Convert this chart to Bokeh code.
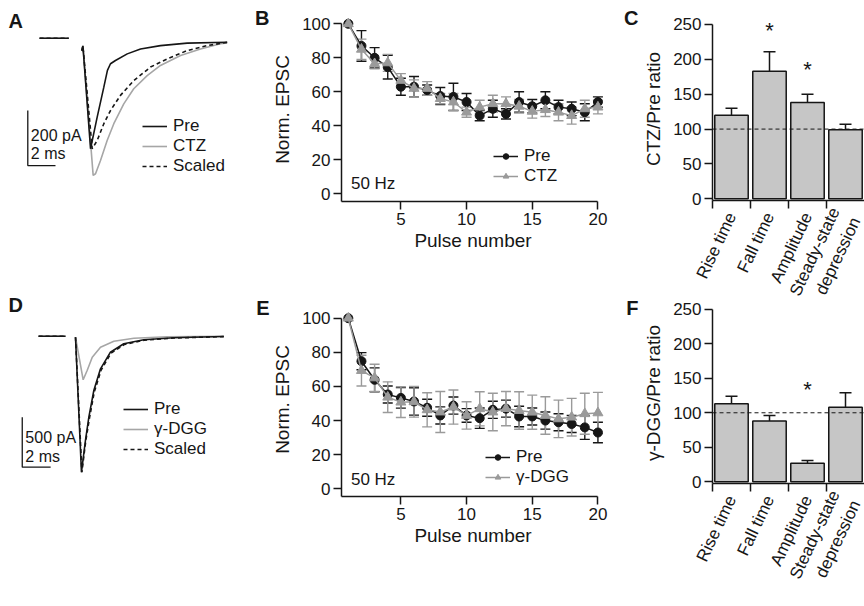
import math
from bokeh.plotting import figure
from bokeh.models import (ColumnDataSource, Whisker, TeeHead, Span, Label, Legend,
                          LegendItem, FixedTicker, Range1d, LinearAxis)
from bokeh.layouts import row, column
from bokeh.embed import file_html
from bokeh.resources import INLINE
from bokeh.core.properties import value

NaN = float("nan")
FONT = "Liberation Sans"
INK = "#161616"
GREY = "#9a9a9a"
TRACE_GREY = "#a6a6a6"
BAR_FILL = "#c6c6c6"

# ---------------- data ----------------
# Panel A: EPSC traces (time in ms, current in pA)
a_pre_t = [-3.1, -1.0, NaN, -0.05, 0.03, 0.58, 1.06, 1.54, 1.80, 2.02, 2.38, 3.23, 4.19, 5.63, 7.56, 10.45]
a_pre_i = [0, 0, NaN, -45, -28, -402, -287, -178, -117, -93, -81, -57, -39, -27, -18, -15]
a_ctz_t = [-3.1, -1.0, NaN, -0.05, 0.03, 0.77, 0.94, 1.30, 1.78, 2.26, 2.98, 3.70, 4.67, 5.63, 7.08, 8.52, 9.96, 10.45]
a_ctz_i = [0, 0, NaN, -45, -28, -499, -493, -445, -372, -311, -239, -184, -136, -99, -63, -39, -20, -17]
a_scl_t = [-3.1, -1.0, NaN, -0.05, 0.03, 0.70, 1.06, 1.54, 2.02, 2.74, 3.70, 4.91, 6.12, 7.56, 9.00, 10.45]
a_scl_i = [0, 0, NaN, -45, -28, -402, -372, -311, -263, -208, -154, -105, -75, -45, -27, -15]

# Panel D: EPSC traces (time in ms, current in pA)
d_pre_t = [-2.6, -0.7, NaN, 0.0, 0.42, 0.70, 0.94, 1.29, 1.76, 2.46, 3.40, 4.81, 6.92, 10.44]
d_pre_i = [0, 0, NaN, -10, -1360, -1043, -810, -543, -326, -160, -76, -36, -16, -3]
d_dgg_t = [-2.6, -0.7, NaN, 0.0, 0.54, 0.82, 1.18, 1.76, 2.70, 4.11, 6.46, 10.44]
d_dgg_i = [0, 0, NaN, -10, -436, -343, -210, -110, -50, -20, -6, 0]
d_scl_t = [-2.6, -0.7, NaN, 0.0, 0.45, 0.72, 0.97, 1.32, 1.80, 2.50, 3.45, 4.85, 6.95, 10.44]
d_scl_i = [0, 0, NaN, -10, -1360, -1050, -830, -560, -340, -170, -82, -40, -18, -4]

# Panels B and E: normalized EPSC during 50 Hz trains
pulse = list(range(1, 21))
b_pre = [100, 87, 80, 74.5, 63, 63, 61, 57.5, 57, 54, 46, 50, 47, 54, 51.5, 55, 51, 50, 48, 54]
b_pre_err = [0, 9, 6, 7, 5, 6, 3, 5, 8, 5, 3, 5, 3, 6, 4, 5, 4, 4, 5, 3]
b_ctz = [100, 85, 76.5, 77, 66.7, 62, 62, 56, 54, 48, 51, 53, 53, 51.5, 48.5, 49.5, 48, 46, 50, 51]
b_ctz_err = [0, 6, 3, 5, 4, 5, 4, 3, 5, 3, 4, 5, 4, 4, 4, 4, 5, 5, 5, 4]

e_pre = [100, 74.8, 63.9, 55.3, 53.3, 51.2, 47.5, 43, 48.8, 43, 41.4, 46.3, 47, 42.4, 42.4, 40, 39, 38, 36, 33]
e_pre_err = [0, 5, 7, 5, 6, 8, 5, 5, 5, 4, 6, 5, 5, 6, 5, 5, 5, 5, 7, 6]
e_dgg = [100, 69.3, 65, 53.7, 50.8, 51, 46.3, 45, 47.9, 43, 46.9, 45, 47, 45.9, 44.9, 43, 41, 42, 44, 44.5]
e_dgg_err = [0, 9, 8, 9, 9, 9, 10, 12, 10, 8, 10, 11, 10, 11, 10, 11, 11, 11, 12, 12]

# Panels C and F: drug / Pre ratios (%)
cats = ["Rise time", "Fall time", "Amplitude", "Steady-state\ndepression"]
c_vals = [120, 183, 138, 99]
c_err = [10, 28, 12, 8]
c_star_idx = [1, 2]
c_star_y = [241, 186]
f_vals = [113, 88, 27, 108]
f_err = [11, 8, 4, 21]
f_star_idx = [2]
f_star_y = [133]

# ---------------- helpers ----------------
def make_fig(w, h, xr, yr, left, right, top, bottom, axes=True):
    kw = dict(width=w, height=h, x_range=Range1d(*xr), y_range=Range1d(*yr),
              output_backend="svg", toolbar_location=None,
              min_border_left=left, min_border_right=right,
              min_border_top=top, min_border_bottom=bottom)
    if not axes:
        kw.update(x_axis_location=None, y_axis_location=None)
    p = figure(**kw)
    p.grid.visible = False
    p.outline_line_color = None
    return p


def style_axes(p):
    for ax in p.axis:
        ax.axis_line_width = 1.5
        ax.axis_line_color = INK
        ax.major_tick_line_color = INK
        ax.major_tick_line_width = 1.5
        ax.major_tick_in = 0
        ax.major_tick_out = 8
        ax.minor_tick_line_color = None
        ax.major_label_text_font = FONT
        ax.major_label_text_font_size = "17px"
        ax.major_label_text_color = INK
        ax.major_label_standoff = 3
        ax.axis_label_text_font = FONT
        ax.axis_label_text_font_size = "19px"
        ax.axis_label_text_font_style = "normal"
        ax.axis_label_text_color = INK
        ax.axis_label_standoff = 6


def letter_axis(p, ch, tick, standoff):
    # panel letter drawn as the single label of an extra, line-less left axis
    ax = LinearAxis(ticker=FixedTicker(ticks=[tick]), major_label_overrides={tick: ch})
    ax.axis_line_color = None
    ax.major_tick_line_color = None
    ax.minor_tick_line_color = None
    ax.major_tick_out = 0
    ax.major_tick_in = 0
    ax.major_label_standoff = standoff
    ax.major_label_text_font = FONT
    ax.major_label_text_font_size = "20px"
    ax.major_label_text_font_style = "bold"
    ax.major_label_text_color = INK
    p.add_layout(ax, "left")


def legend(p, items, x, y, spacing, line_height=1.2):
    lg = Legend(items=[LegendItem(label=l, renderers=r) for l, r in items],
                location=(x, y), orientation="vertical",
                border_line_color=None, background_fill_alpha=0,
                padding=0, margin=0, spacing=spacing,
                glyph_width=25, glyph_height=14, label_height=14,
                label_standoff=6, label_text_font=FONT,
                label_text_line_height=line_height,
                label_text_font_size="17px", label_text_color=INK)
    p.add_layout(lg)


# ---------------- trace panels (A, D) ----------------
def trace_panel(h, xr, yr, traces, sb, sb_labels, ch, ch_xy):
    p = make_fig(240, h, xr, yr, 0, 0, 0, 0, axes=False)
    rs = []
    for t, i, color, dash in traces:
        rs.append(p.line(t, i, line_color=color, line_width=1.6, line_dash=dash))
    t0, i0, dt, di = sb
    p.line([t0, t0, t0 + dt], [i0 + di, i0, i0], line_color=INK, line_width=1.3)
    p.text(x=[t0 + 0.22, t0 + 0.22], y=sb_labels, text=[f"{di} pA", f"{dt} ms"],
           text_font=value(FONT), text_font_size="16px", text_color=INK,
           text_align="left", text_baseline="middle")
    p.add_layout(Label(x=ch_xy[0], y=ch_xy[1], text=ch, text_font=FONT,
                       text_font_size="20px", text_font_style="bold", text_color=INK,
                       text_align="left", text_baseline="middle"))
    return p, rs


# Panel A  (scale: 13.85 px per ms, 0.275 px per pA)
A_xr = ((0 - 82) / 13.85, (240 - 82) / 13.85)
A_yr = ((37.7 - 294) / 0.275, (37.7 - 0) / 0.275)
pA, rA = trace_panel(294, A_xr, A_yr,
                     [(a_ctz_t, a_ctz_i, TRACE_GREY, "solid"),
                      (a_pre_t, a_pre_i, INK, "solid"),
                      (a_scl_t, a_scl_i, INK, "4 3")],
                     (-3.95, -463, 2, 200), [-354, -418], "A",
                     ((8 - 82) / 13.85, (37.7 - 20) / 0.275))
legend(pA, [("Pre", [rA[1]]), ("CTZ", [rA[0]]), ("Scaled", [rA[2]])], 142, 118, 0, 0.85)

# Panel D  (scale: 14.2 px per ms, 0.1 px per pA)
D_xr = ((0 - 75) / 14.2, (240 - 75) / 14.2)
D_yr = ((335.7 - 604) / 0.1, (335.7 - 294) / 0.1)
pD, rD = trace_panel(310, D_xr, D_yr,
                     [(d_dgg_t, d_dgg_i, TRACE_GREY, "solid"),
                      (d_pre_t, d_pre_i, INK, "solid"),
                      (d_scl_t, d_scl_i, INK, "4 3")],
                     (-3.75, -1310, 2, 500), [-1010, -1200], "D",
                     ((8 - 75) / 14.2, (335.7 - 304) / 0.1))
legend(pD, [("Pre", [rD[1]]), ("\u03b3-DGG", [rD[0]]), ("Scaled", [rD[2]])], 123, 145, 0, 0.9)

# ---------------- train panels (B, E) ----------------
T_xr = (0.48, 20.5)


def train_panel(h, top, bottom, yr, pre, pre_err, drug, drug_err, drug_name, hz_y,
                leg_xy, leg_spacing, ch):
    p = make_fig(380, h, T_xr, yr, 101, 16, top, bottom)
    for vals, errs, color in [(pre, pre_err, INK), (drug, drug_err, GREY)]:
        keep = [k for k, e in enumerate(errs) if e > 0]
        src = ColumnDataSource(dict(x=[pulse[k] for k in keep],
                                    lo=[vals[k] - errs[k] for k in keep],
                                    hi=[vals[k] + errs[k] for k in keep]))
        p.add_layout(Whisker(source=src, base="x", lower="lo", upper="hi",
                             line_color=color, line_width=1.4,
                             lower_head=TeeHead(size=10, line_color=color, line_width=1.4),
                             upper_head=TeeHead(size=10, line_color=color, line_width=1.4)))
    l1 = p.line(pulse, pre, line_color=INK, line_width=1.5)
    m1 = p.scatter(pulse, pre, marker="circle", size=9, fill_color=INK, line_color=INK)
    l2 = p.line(pulse, drug, line_color=GREY, line_width=1.5)
    m2 = p.scatter(pulse, drug, marker="triangle", size=10, fill_color=GREY, line_color=GREY)
    p.text(x=[1.2], y=[hz_y], text=["50 Hz"], text_font=value(FONT), text_font_size="17px",
           text_color=INK, text_align="left", text_baseline="middle")
    style_axes(p)
    p.yaxis.ticker = FixedTicker(ticks=[0, 20, 40, 60, 80, 100])
    p.yaxis.bounds = (yr[0], 100)
    p.xaxis.ticker = FixedTicker(ticks=[5, 10, 15, 20])
    p.xaxis.bounds = (T_xr[0], 20)
    p.yaxis.axis_label = "Norm. EPSC"
    p.xaxis.axis_label = "Pulse number"
    p.xaxis.axis_label_standoff = 2
    legend(p, [("Pre", [l1, m1]), (drug_name, [l2, m2])], leg_xy[0], leg_xy[1], leg_spacing)
    letter_axis(p, ch, yr[1] - 0.2, 0)
    return p


B_yr = (-4.5, 103.7)
E_yr = (-4.5, 109.2)
pB = train_panel(294, 17, 93, B_yr, b_pre, b_pre_err, b_ctz, b_ctz_err, "CTZ", 6.2,
                 (152, 15), 0, "B")
pE = train_panel(310, 8, 108, E_yr, e_pre, e_pre_err, e_dgg, e_dgg_err, "\u03b3-DGG", 5.4,
                 (144, 9), 0, "E")

# ---------------- ratio panels (C, F) ----------------
R_xr = (0, 4)


def ratio_panel(h, top, bottom, yr, vals, errs, star_idx, star_y, ylabel, ch):
    p = make_fig(244, h, R_xr, yr, 92, 0, top, bottom)
    xs = [k + 0.5 for k in range(len(cats))]
    p.vbar(x=xs, top=vals, bottom=0, width=0.88, fill_color=BAR_FILL,
           line_color=INK, line_width=1.5)
    src = ColumnDataSource(dict(x=xs, lo=vals, hi=[v + e for v, e in zip(vals, errs)]))
    p.add_layout(Whisker(source=src, base="x", lower="lo", upper="hi",
                         line_color=INK, line_width=1.5, lower_head=None,
                         upper_head=TeeHead(size=12, line_color=INK, line_width=1.5)))
    p.add_layout(Span(location=100, dimension="width", line_dash="4 3",
                      line_color=INK, line_width=1))
    p.text(x=[xs[k] for k in star_idx], y=star_y, text=["*"] * len(star_idx),
           text_font=value(FONT), text_font_size="22px", text_color=INK,
           text_align="center", text_baseline="middle")
    style_axes(p)
    p.yaxis.ticker = FixedTicker(ticks=[0, 50, 100, 150, 200, 250])
    p.yaxis.bounds = (yr[0], 250)
    p.yaxis.axis_label = ylabel
    p.xaxis.ticker = FixedTicker(ticks=xs, minor_ticks=[0, 1, 2, 3])
    p.xaxis.major_label_overrides = {x: c for x, c in zip(xs, cats)}
    p.xaxis.major_tick_line_color = None
    p.xaxis.major_tick_out = 0
    p.xaxis.minor_tick_line_color = INK
    p.xaxis.minor_tick_line_width = 1.5
    p.xaxis.minor_tick_in = 0
    p.xaxis.minor_tick_out = 8
    p.xaxis.major_label_orientation = 1.13
    p.xaxis.major_label_standoff = 5
    p.xaxis.major_label_text_font_size = "17px"
    letter_axis(p, ch, yr[1] - 0.5, 2)
    return p


C_yr = (-2.4, 260)
F_yr = (-2.5, 259.8)
pC = ratio_panel(321, 17, 121, C_yr, c_vals, c_err, c_star_idx, c_star_y, "CTZ/Pre ratio", "C")
pF = ratio_panel(310, 8, 121, F_yr, f_vals, f_err, f_star_idx, f_star_y, "\u03b3-DGG/Pre ratio", "F")
pF.border_fill_color = None
pF.background_fill_color = None
pF.margin = (-27, 0, 0, 0)

layout = row(column(pA, pD), column(pB, pE), column(pC, pF))
open("out.html", "w").write(file_html(layout, INLINE))
